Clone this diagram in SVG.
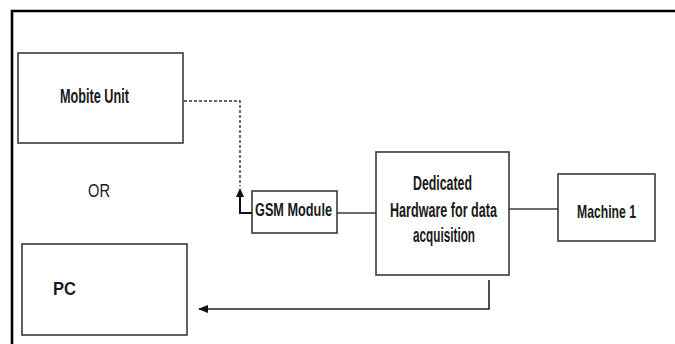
<svg xmlns="http://www.w3.org/2000/svg" width="675" height="344" viewBox="0 0 675 344">
<style>
.box{fill:#fff;stroke:#3a3a3a;stroke-width:1.6}
.lbl{font-family:"Liberation Sans",Arial,sans-serif;font-weight:bold;fill:#1a1a1a}
.ln{fill:none;stroke:#3a3a3a;stroke-width:1.6}
</style>
<defs>
<marker id="ah" markerWidth="10" markerHeight="8" refX="9" refY="4" orient="auto" markerUnits="userSpaceOnUse">
<path d="M0,0 L10,4 L0,8 Z" fill="#111"/>
</marker>
</defs>
<rect width="675" height="344" fill="#fff"/>
<g id="frame">
<path d="M12,344 V11 H675" fill="none" stroke="#000" stroke-width="2.6"/>
</g>
<g id="mobite">
<rect class="box" x="18" y="53" width="165" height="90"/>
<text class="lbl" x="60" y="103" font-size="20" textLength="69" lengthAdjust="spacingAndGlyphs">Mobite Unit</text>
</g>
<g id="or">
<text x="88" y="197" font-family="Liberation Sans,Arial,sans-serif" font-size="19" fill="#1a1a1a" textLength="22" lengthAdjust="spacingAndGlyphs">OR</text>
</g>
<g id="pc">
<rect class="box" x="22" y="244" width="165" height="91"/>
<text class="lbl" x="53" y="295" font-size="18" textLength="23" lengthAdjust="spacingAndGlyphs">PC</text>
</g>
<g id="gsm">
<rect class="box" x="252" y="191" width="85" height="42"/>
<text class="lbl" x="255" y="216" font-size="19" textLength="77" lengthAdjust="spacingAndGlyphs">GSM Module</text>
</g>
<g id="dedicated">
<rect class="box" x="376" y="152" width="133" height="123"/>
<text class="lbl" x="413" y="190" font-size="20" textLength="59" lengthAdjust="spacingAndGlyphs">Dedicated</text>
<text class="lbl" x="390" y="217" font-size="20" textLength="107" lengthAdjust="spacingAndGlyphs">Hardware for data</text>
<text class="lbl" x="413" y="242" font-size="20" textLength="62" lengthAdjust="spacingAndGlyphs">acquisition</text>
</g>
<g id="machine">
<rect class="box" x="558" y="174" width="97" height="67"/>
<text class="lbl" x="577" y="218" font-size="19" textLength="59" lengthAdjust="spacingAndGlyphs">Machine 1</text>
</g>
<g id="connectors">
<path d="M184,101 H240 V186" fill="none" stroke="#333" stroke-width="1.4" stroke-dasharray="3,2"/>
<path d="M252,213 H240 V197" fill="none" stroke="#111" stroke-width="2"/>
<path d="M240,188 L244,197 L236,197 Z" fill="#111"/>
<line class="ln" x1="337" y1="213" x2="376" y2="213"/>
<line class="ln" x1="509" y1="209" x2="558" y2="209"/>
<path d="M489,280 V309 H199" fill="none" stroke="#222" stroke-width="1.6" marker-end="url(#ah)"/>
</g>
</svg>
